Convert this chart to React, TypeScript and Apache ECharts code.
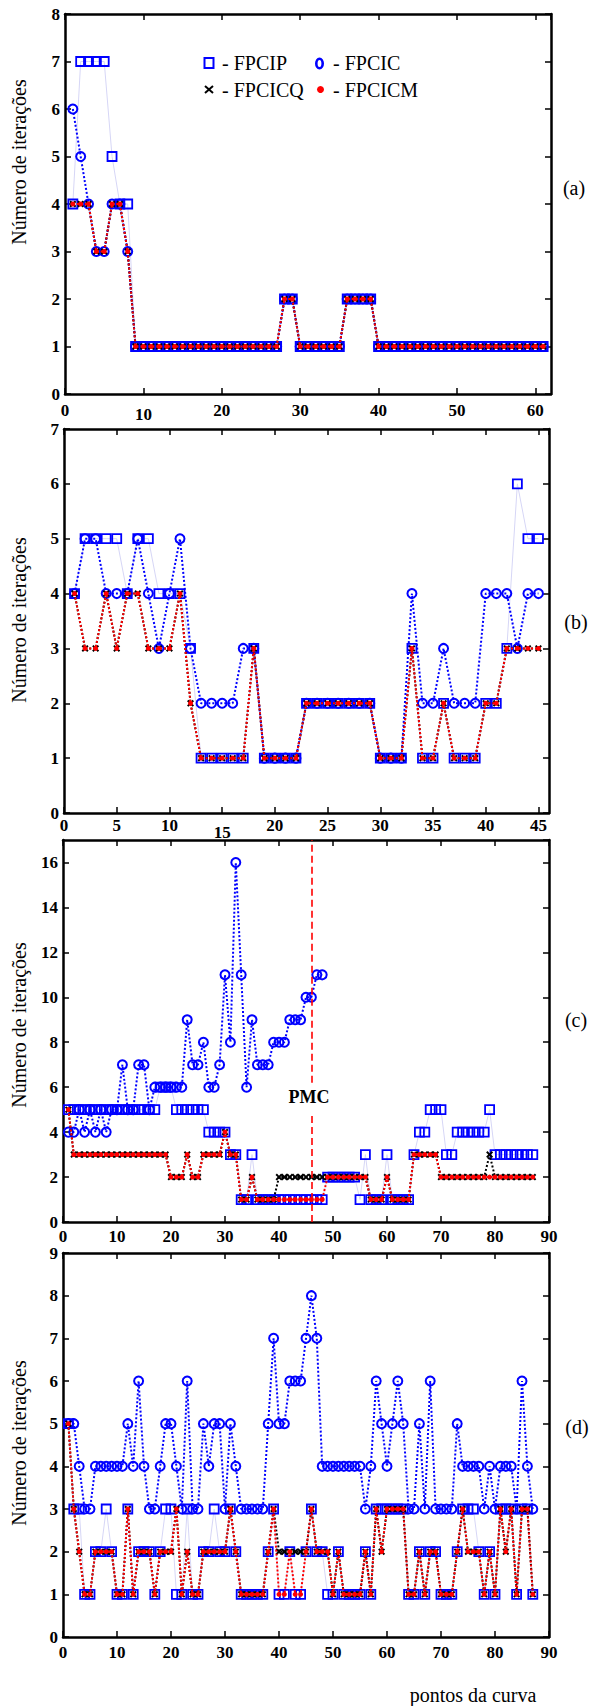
import React, { useEffect, useRef } from "react";
import * as echarts from "echarts";

const SERIF = "Liberation Serif, Times New Roman, serif";

// ---------------- Panel (a) : points 1..61 ----------------
const A_FPCIP = [
  4, 7, 7, 7, 7, 5, 4, 4, 1, 1,
  1, 1, 1, 1, 1, 1, 1, 1, 1, 1,
  1, 1, 1, 1, 1, 1, 1, 2, 2, 1,
  1, 1, 1, 1, 1, 2, 2, 2, 2, 1,
  1, 1, 1, 1, 1, 1, 1, 1, 1, 1,
  1, 1, 1, 1, 1, 1, 1, 1, 1, 1,
  1,
];
const A_FPCIC = [
  6, 5, 4, 3, 3, 4, 4, 3, 1, 1,
  1, 1, 1, 1, 1, 1, 1, 1, 1, 1,
  1, 1, 1, 1, 1, 1, 1, 2, 2, 1,
  1, 1, 1, 1, 1, 2, 2, 2, 2, 1,
  1, 1, 1, 1, 1, 1, 1, 1, 1, 1,
  1, 1, 1, 1, 1, 1, 1, 1, 1, 1,
  1,
];
const A_FPCICQ = [
  4, 4, 4, 3, 3, 4, 4, 3, 1, 1,
  1, 1, 1, 1, 1, 1, 1, 1, 1, 1,
  1, 1, 1, 1, 1, 1, 1, 2, 2, 1,
  1, 1, 1, 1, 1, 2, 2, 2, 2, 1,
  1, 1, 1, 1, 1, 1, 1, 1, 1, 1,
  1, 1, 1, 1, 1, 1, 1, 1, 1, 1,
  1,
];
const A_FPCICM = [
  4, 4, 4, 3, 3, 4, 4, 3, 1, 1,
  1, 1, 1, 1, 1, 1, 1, 1, 1, 1,
  1, 1, 1, 1, 1, 1, 1, 2, 2, 1,
  1, 1, 1, 1, 1, 2, 2, 2, 2, 1,
  1, 1, 1, 1, 1, 1, 1, 1, 1, 1,
  1, 1, 1, 1, 1, 1, 1, 1, 1, 1,
  1,
];

// ---------------- Panel (b) : points 1..45 ----------------
const B_FPCIP = [
  4, 5, 5, 5, 5, 4, 5, 5, 4, 4,
  4, 3, 1, 1, 1, 1, 1, 3, 1, 1,
  1, 1, 2, 2, 2, 2, 2, 2, 2, 1,
  1, 1, 3, 1, 1, 2, 1, 1, 1, 2,
  2, 3, 6, 5, 5,
];
const B_FPCIC = [
  4, 5, 5, 4, 4, 4, 5, 4, 3, 4,
  5, 3, 2, 2, 2, 2, 3, 3, 1, 1,
  1, 1, 2, 2, 2, 2, 2, 2, 2, 1,
  1, 1, 4, 2, 2, 3, 2, 2, 2, 4,
  4, 4, 3, 4, 4,
];
const B_FPCICQ = [
  4, 3, 3, 4, 3, 4, 4, 3, 3, 3,
  4, 2, 1, 1, 1, 1, 1, 3, 1, 1,
  1, 1, 2, 2, 2, 2, 2, 2, 2, 1,
  1, 1, 3, 1, 1, 2, 1, 1, 1, 2,
  2, 3, 3, 3, 3,
];
const B_FPCICM = [
  4, 3, 3, 4, 3, 4, 4, 3, 3, 3,
  4, 2, 1, 1, 1, 1, 1, 3, 1, 1,
  1, 1, 2, 2, 2, 2, 2, 2, 2, 1,
  1, 1, 3, 1, 1, 2, 1, 1, 1, 2,
  2, 3, 3, 3, 3,
];

// ---------------- Panel (c) : points 1..87 ----------------
const C_FPCIP = [
  5, 5, 5, 5, 5, 5, 5, 5, 5, 5,
  5, 5, 5, 5, 5, 5, 5, 6, 6, 6,
  5, 5, 5, 5, 5, 5, 4, 4, 4, 4,
  3, 3, 1, 1, 3, 1, 1, 1, 1, 1,
  1, 1, 1, 1, 1, 1, 1, 1, 2, 2,
  2, 2, 2, 2, 1, 3, 1, 1, 1, 3,
  1, 1, 1, 1, 3, 4, 4, 5, 5, 5,
  3, 3, 4, 4, 4, 4, 4, 4, 5, 3,
  3, 3, 3, 3, 3, 3, 3,
];
// FPCIC only up to point 48
const C_FPCIC = [
  4, 4, 5, 4, 5, 4, 5, 4, 5, 5,
  7, 5, 5, 7, 7, 5, 6, 6, 6, 6,
  6, 6, 9, 7, 7, 8, 6, 6, 7, 11,
  8, 16, 11, 6, 9, 7, 7, 7, 8, 8,
  8, 9, 9, 9, 10, 10, 11, 11,
];
const C_FPCICQ = [
  5, 3, 3, 3, 3, 3, 3, 3, 3, 3,
  3, 3, 3, 3, 3, 3, 3, 3, 3, 2,
  2, 2, 3, 2, 2, 3, 3, 3, 3, 4,
  3, 3, 1, 1, 2, 1, 1, 1, 1, 2,
  2, 2, 2, 2, 2, 2, 2, 2, 2, 2,
  2, 2, 2, 2, 2, 2, 1, 1, 1, 2,
  1, 1, 1, 1, 3, 3, 3, 3, 3, 2,
  2, 2, 2, 2, 2, 2, 2, 2, 3, 2,
  2, 2, 2, 2, 2, 2, 2,
];
const C_FPCICM = [
  5, 3, 3, 3, 3, 3, 3, 3, 3, 3,
  3, 3, 3, 3, 3, 3, 3, 3, 3, 2,
  2, 2, 3, 2, 2, 3, 3, 3, 3, 4,
  3, 3, 1, 1, 2, 1, 1, 1, 1, 1,
  1, 1, 1, 1, 1, 1, 1, 1, 2, 2,
  2, 2, 2, 2, 2, 2, 1, 1, 1, 2,
  1, 1, 1, 1, 3, 3, 3, 3, 3, 2,
  2, 2, 2, 2, 2, 2, 2, 2, 2, 2,
  2, 2, 2, 2, 2, 2, 2,
];
const PMC_X = 46;
const PMC_GAP = [4.8, 6.2];

// ---------------- Panel (d) : points 1..87 ----------------
const D_FPCIP = [
  5, 3, 3, 1, 1, 2, 2, 3, 2, 1,
  1, 3, 1, 2, 2, 2, 1, 2, 3, 3,
  1, 1, 3, 1, 1, 2, 2, 3, 2, 2,
  3, 2, 1, 1, 1, 1, 1, 2, 3, 1,
  1, 2, 1, 1, 2, 3, 2, 2, 1, 1,
  2, 1, 1, 1, 1, 2, 1, 3, 3, 3,
  3, 3, 3, 1, 1, 2, 1, 2, 2, 1,
  1, 1, 2, 3, 3, 3, 2, 1, 2, 1,
  3, 3, 3, 1, 3, 3, 1,
];
const D_FPCIC = [
  5, 5, 4, 3, 3, 4, 4, 4, 4, 4,
  4, 5, 4, 6, 4, 3, 3, 4, 5, 5,
  4, 3, 6, 3, 3, 5, 4, 5, 5, 3,
  5, 4, 3, 3, 3, 3, 3, 5, 7, 5,
  5, 6, 6, 6, 7, 8, 7, 4, 4, 4,
  4, 4, 4, 4, 4, 3, 4, 6, 5, 4,
  5, 6, 5, 3, 3, 5, 3, 6, 3, 3,
  3, 3, 5, 4, 4, 4, 4, 3, 4, 3,
  4, 4, 4, 3, 6, 4, 3,
];
const D_FPCICQ = [
  5, 3, 2, 1, 1, 2, 2, 2, 2, 1,
  1, 3, 1, 2, 2, 2, 1, 2, 2, 2,
  3, 1, 2, 1, 1, 2, 2, 2, 2, 2,
  3, 2, 1, 1, 1, 1, 1, 2, 3, 2,
  2, 2, 2, 2, 2, 3, 2, 2, 2, 1,
  2, 1, 1, 1, 1, 2, 1, 3, 2, 3,
  3, 3, 3, 1, 1, 2, 1, 2, 2, 1,
  1, 1, 2, 3, 2, 2, 2, 1, 2, 1,
  3, 2, 3, 1, 3, 3, 1,
];
const D_FPCICM = [
  5, 3, 2, 1, 1, 2, 2, 2, 2, 1,
  1, 3, 1, 2, 2, 2, 1, 2, 2, 2,
  3, 1, 2, 1, 1, 2, 2, 2, 2, 2,
  3, 2, 1, 1, 1, 1, 1, 2, 3, 1,
  1, 2, 1, 1, 2, 3, 2, 2, 2, 1,
  2, 1, 1, 1, 1, 2, 1, 3, 2, 3,
  3, 3, 3, 1, 1, 2, 1, 2, 2, 1,
  1, 1, 2, 3, 2, 2, 2, 1, 2, 1,
  3, 2, 3, 1, 3, 3, 1,
];

// ---------------- Axes ----------------
const X_MAX = [62, 46, 90, 90];
const X_STEP = [10, 5, 10, 10];
const Y_MAX = [8, 7, 17, 9];
const Y_STEP = [1, 1, 2, 1];
const X_LOW_LABEL = [10, 15, null, null]; // labels printed a little lower
const PANEL_TAGS = ["(a)", "(b)", "(c)", "(d)"];
const Y_TITLE = "Número de iterações";
const X_TITLE = "pontos da curva";
const LEGEND = ["- FPCIP", "- FPCICQ", "- FPCIC", "- FPCICM"];

// layout (pixels)
const GRIDS = [
  { left: 65, top: 14, width: 486, height: 380 },
  { left: 64, top: 429, width: 485, height: 384 },
  { left: 63, top: 840, width: 486, height: 382 },
  { left: 63, top: 1253, width: 486, height: 384 },
];
const X_LABEL_MARGIN = [8, 4, 6, 7];
const X_LOW_PAD = [4, 7, 0, 0];
const Y_TITLE_POS = [162, 620, 1025, 1443];
const TAG_POS = [
  [574, 188],
  [576, 622],
  [576, 1020],
  [577, 1427],
];

const CROSS = "path://M0,2L2,0L5,3L8,0L10,2L7,5L10,8L8,10L5,7L2,10L0,8L3,5Z";

const labelBase = {
  color: "#000",
  fontFamily: SERIF,
  fontSize: 17,
  fontWeight: "bold" as const,
};
const axisLine = { show: true, onZero: false, lineStyle: { color: "#000", width: 2.5 } };
const axisTick = { show: true, inside: true, length: 6, lineStyle: { color: "#000", width: 1.5 } };

function toXY(arr: number[]) {
  return arr.map((v, k) => [k + 1, v]);
}

function buildOption() {
  const xAxis: any[] = [];
  const yAxis: any[] = [];
  GRIDS.forEach((_, i) => {
    const low = X_LOW_LABEL[i];
    const xMaxIsTick = X_MAX[i] % X_STEP[i] === 0;
    xAxis.push({
      type: "value",
      gridIndex: i,
      position: "bottom",
      min: 0,
      max: X_MAX[i],
      interval: X_STEP[i],
      axisLine,
      axisTick,
      splitLine: { show: false },
      axisLabel: {
        ...labelBase,
        margin: X_LABEL_MARGIN[i],
        showMaxLabel: xMaxIsTick ? true : false,
        formatter: (v: number) => (low !== null && v === low ? `{lo|${v}}` : `${v}`),
        rich: { lo: { ...labelBase, padding: [X_LOW_PAD[i], 0, 0, 0] } },
      },
    });
    xAxis.push({
      type: "value",
      gridIndex: i,
      position: "top",
      min: 0,
      max: X_MAX[i],
      interval: X_STEP[i],
      axisLine,
      axisTick,
      splitLine: { show: false },
      axisLabel: { show: false },
    });
    const yMaxIsTick = Y_MAX[i] % Y_STEP[i] === 0;
    yAxis.push({
      type: "value",
      gridIndex: i,
      position: "left",
      min: 0,
      max: Y_MAX[i],
      interval: Y_STEP[i],
      axisLine,
      axisTick,
      splitLine: { show: false },
      axisLabel: { ...labelBase, margin: 5, showMaxLabel: yMaxIsTick ? true : false },
    });
    yAxis.push({
      type: "value",
      gridIndex: i,
      position: "right",
      min: 0,
      max: Y_MAX[i],
      interval: Y_STEP[i],
      axisLine,
      axisTick,
      splitLine: { show: false },
      axisLabel: { show: false },
    });
  });

  const panels = [
    [A_FPCIP, A_FPCIC, A_FPCICQ, A_FPCICM],
    [B_FPCIP, B_FPCIC, B_FPCICQ, B_FPCICM],
    [C_FPCIP, C_FPCIC, C_FPCICQ, C_FPCICM],
    [D_FPCIP, D_FPCIC, D_FPCICQ, D_FPCICM],
  ];

  const series: any[] = [];
  panels.forEach(([P, C, Q, M], i) => {
    const ax = { xAxisIndex: i * 2, yAxisIndex: i * 2 };
    series.push({
      name: "FPCIP",
      type: "line",
      ...ax,
      data: toXY(P),
      symbol: "rect",
      symbolSize: 9,
      showAllSymbol: true,
      lineStyle: { color: "#d6d6f6", width: 1 },
      itemStyle: { color: "rgba(0,0,0,0)", borderColor: "#0000ff", borderWidth: 1.8 },
      emphasis: { disabled: true },
      z: 2,
    });
    series.push({
      name: "FPCIC",
      type: "line",
      ...ax,
      data: toXY(C),
      symbol: "circle",
      symbolSize: 9,
      showAllSymbol: true,
      lineStyle: { color: "#0000ff", width: 2, type: "dotted" },
      itemStyle: { color: "rgba(0,0,0,0)", borderColor: "#0000ff", borderWidth: 2 },
      emphasis: { disabled: true },
      z: 3,
    });
    series.push({
      name: "FPCICQ",
      type: "line",
      ...ax,
      data: toXY(Q),
      symbol: CROSS,
      symbolSize: 7,
      showAllSymbol: true,
      lineStyle: { color: "#000000", width: 2, type: "dotted" },
      itemStyle: { color: "#000000" },
      emphasis: { disabled: true },
      z: 4,
    });
    const m: any = {
      name: "FPCICM",
      type: "line",
      ...ax,
      data: toXY(M),
      symbol: "circle",
      symbolSize: 5,
      showAllSymbol: true,
      lineStyle: { color: "#ff0000", width: 2, type: "dotted" },
      itemStyle: { color: "#ff0000" },
      emphasis: { disabled: true },
      z: 5,
    };
    if (i === 2) {
      m.markLine = {
        silent: true,
        symbol: ["none", "none"],
        label: { show: false },
        lineStyle: { color: "#ff0000", width: 1.6, type: [7, 4] },
        data: [
          [{ coord: [PMC_X, 0] }, { coord: [PMC_X, PMC_GAP[0]] }],
          [{ coord: [PMC_X, PMC_GAP[1]] }, { coord: [PMC_X, Y_MAX[2]] }],
        ],
      };
    }
    series.push(m);
  });

  const textStyle = (text: string, size: number, extra: any = {}) => ({
    text,
    fill: "#000",
    fontFamily: SERIF,
    fontSize: size,
    fontWeight: extra.bold ? "bold" : "normal",
    align: extra.align || "center",
    verticalAlign: "middle",
  });

  const graphic: any[] = [];
  Y_TITLE_POS.forEach((y) => {
    graphic.push({
      type: "text",
      x: 19,
      y,
      rotation: Math.PI / 2,
      style: textStyle(Y_TITLE, 20),
    });
  });
  PANEL_TAGS.forEach((t, i) => {
    graphic.push({ type: "text", x: TAG_POS[i][0], y: TAG_POS[i][1], style: textStyle(t, 20) });
  });
  graphic.push({ type: "text", x: 473, y: 1695, style: textStyle(X_TITLE, 20) });
  // PMC label: center of the dashed line's gap
  graphic.push({ type: "text", x: 309, y: 1097, style: textStyle("PMC", 18, { bold: true }) });

  // legend in panel (a)
  graphic.push({
    type: "rect",
    shape: { x: 204.5, y: 58, width: 9, height: 10 },
    style: { fill: "none", stroke: "#0000ff", lineWidth: 2 },
  });
  graphic.push({ type: "text", x: 222, y: 63, style: textStyle(LEGEND[0], 20, { align: "left" }) });
  graphic.push({
    type: "line",
    shape: { x1: 205, y1: 86, x2: 213, y2: 93 },
    style: { stroke: "#000", lineWidth: 2 },
  });
  graphic.push({
    type: "line",
    shape: { x1: 213, y1: 86, x2: 205, y2: 93 },
    style: { stroke: "#000", lineWidth: 2 },
  });
  graphic.push({ type: "text", x: 222, y: 89.5, style: textStyle(LEGEND[1], 20, { align: "left" }) });
  graphic.push({
    type: "ellipse",
    shape: { cx: 319.5, cy: 63.5, rx: 3.2, ry: 4.8 },
    style: { fill: "none", stroke: "#0000ff", lineWidth: 2.6 },
  });
  graphic.push({ type: "text", x: 333, y: 63, style: textStyle(LEGEND[2], 20, { align: "left" }) });
  graphic.push({
    type: "circle",
    shape: { cx: 320.5, cy: 89.5, r: 3.5 },
    style: { fill: "#ff0000" },
  });
  graphic.push({ type: "text", x: 333, y: 89.5, style: textStyle(LEGEND[3], 20, { align: "left" }) });

  return {
    animation: false,
    backgroundColor: "#ffffff",
    textStyle: { fontFamily: SERIF },
    grid: GRIDS.map((g) => ({ ...g, containLabel: false })),
    xAxis,
    yAxis,
    series,
    graphic,
  };
}

export default function App() {
  const ref = useRef<HTMLDivElement>(null);
  useEffect(() => {
    if (!ref.current) return;
    const chart = echarts.init(ref.current, null, { renderer: "svg" });
    chart.setOption(buildOption() as any);
    return () => chart.dispose();
  }, []);
  return (
    <>
      <style>{"html,body{margin:0;padding:0;background:#fff;}"}</style>
      <div ref={ref} style={{ width: 590, height: 1706 }} />
    </>
  );
}
